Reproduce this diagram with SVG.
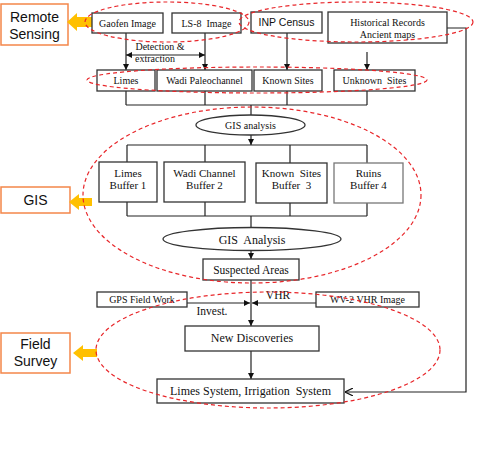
<svg xmlns="http://www.w3.org/2000/svg" width="483" height="476" viewBox="0 0 483 476">
<style>
.box{fill:#fff;stroke:#333;stroke-width:1.3}
.box2{fill:#fff;stroke:#777;stroke-width:1.3}
.side{fill:#fff;stroke:#F4864A;stroke-width:1.5}
.t{font-family:"Liberation Serif","Times New Roman",serif;fill:#111;text-anchor:middle}
.s{font-family:"Liberation Sans",Arial,sans-serif;fill:#111;text-anchor:middle}
.ln{fill:none;stroke:#222;stroke-width:1.2}
.red{fill:none;stroke:#E8262A;stroke-width:1.2;stroke-dasharray:4 3}
.ya{fill:#FFC000}
</style>
<defs>
<marker id="ah" viewBox="0 0 10 10" refX="10" refY="5" markerWidth="6" markerHeight="6" orient="auto-start-reverse" markerUnits="userSpaceOnUse"><path d="M0,0L10,5L0,10z" fill="#111"/></marker>
<marker id="open" viewBox="0 0 10 10" refX="10" refY="5" markerWidth="8" markerHeight="8" orient="auto" markerUnits="userSpaceOnUse"><path d="M0,0L10,5L0,10" fill="none" stroke="#111" stroke-width="1.4"/></marker>
</defs>

<g id="connectors">
<line class="ln" x1="126" y1="33" x2="126" y2="70" marker-end="url(#ah)"/>
<line class="ln" x1="205" y1="33" x2="205" y2="70" marker-end="url(#ah)"/>
<line class="ln" x1="126" y1="55" x2="205" y2="55" marker-start="url(#ah)" marker-end="url(#ah)"/>
<line class="ln" x1="287" y1="33" x2="287" y2="70" marker-end="url(#ah)"/>
<line class="ln" x1="367" y1="52" x2="367" y2="70" marker-end="url(#ah)"/>
<path class="ln" d="M126,91V105M205,91V105M287,91V105M367,91V105M126,105H367"/>
<line class="ln" x1="251" y1="105" x2="251" y2="115"/>
<line class="ln" x1="251" y1="135" x2="251" y2="145" marker-end="url(#ah)"/>
<path class="ln" d="M127,145H367M127,145V162M205,145V162M290,145V163M367,145V163"/>
<path class="ln" d="M127,202V216M205,202V216M290,203V216M367,203V216M127,216H367M251,216V228"/>
<line class="ln" x1="251" y1="250" x2="251" y2="259" marker-end="url(#ah)"/>
<line class="ln" x1="251" y1="280" x2="251" y2="326" marker-end="url(#ah)"/>
<line class="ln" x1="187" y1="303" x2="250" y2="303" marker-end="url(#ah)"/>
<line class="ln" x1="316" y1="303" x2="252" y2="303" marker-end="url(#ah)"/>
<line class="ln" x1="251" y1="351" x2="251" y2="379" marker-end="url(#ah)"/>
<polyline class="ln" points="447,28 466,28 466,392 345,392" marker-end="url(#open)"/>
<text class="t" x="160" y="50" font-size="10">Detection &amp;</text>
<text class="t" x="155" y="62" font-size="10">extraction</text>
<text class="t" x="278" y="299" font-size="11.5">VHR</text>
<text class="t" x="212" y="315" font-size="11.5">Invest.</text>
</g>

<g id="remote-sensing">
<rect class="side" x="1" y="4" width="67" height="41"/>
<text class="s" x="34.5" y="22" font-size="14">Remote</text>
<text class="s" x="34.5" y="39" font-size="14">Sensing</text>
<polygon class="ya" points="67,22 77,13 77,17 92,17 92,27 77,27 77,31"/>
</g>
<g id="gis-label">
<rect class="side" x="1" y="187" width="69" height="26"/>
<text class="s" x="35.5" y="205" font-size="14">GIS</text>
<polygon class="ya" points="69,202 79,194 79,198 92,198 92,206 79,206 79,210"/>
</g>
<g id="field-survey">
<rect class="side" x="1" y="333" width="69" height="40"/>
<text class="s" x="35.5" y="349" font-size="14">Field</text>
<text class="s" x="35.5" y="366" font-size="14">Survey</text>
<polygon class="ya" points="73,353 83,345 83,349 97,349 97,357 83,357 83,361"/>
</g>

<g id="gaofen"><rect class="box" x="92" y="13" width="71" height="20"/><text class="t" x="127.5" y="27" font-size="10">Gaofen Image</text></g>
<g id="ls8"><rect class="box" x="172" y="13" width="69" height="20"/><text class="t" x="206.5" y="27" font-size="10" xml:space="preserve">LS-8  Image</text></g>
<g id="inp"><rect class="box" x="251" y="12" width="71" height="21"/><text class="s" x="286.5" y="26" font-size="10.5">INP Census</text></g>
<g id="historical"><rect class="box" x="328" y="12" width="119" height="31"/><text class="t" x="387.5" y="26" font-size="10">Historical Records</text><text class="t" x="387.5" y="38" font-size="10">Ancient maps</text></g>

<g id="limes"><rect class="box" x="97" y="70" width="58" height="21"/><text class="t" x="126" y="84" font-size="10">Limes</text></g>
<g id="wadi"><rect class="box" x="157" y="70" width="95" height="21"/><text class="t" x="204.5" y="84" font-size="10">Wadi Paleochannel</text></g>
<g id="known"><rect class="box" x="254" y="70" width="68" height="21"/><text class="t" x="288" y="84" font-size="10">Known Sites</text></g>
<g id="unknown"><rect class="box" x="334" y="70" width="81" height="21"/><text class="t" x="374.5" y="84" font-size="10" xml:space="preserve">Unknown  Sites</text></g>

<g id="gis-analysis-1"><ellipse class="box" cx="250.5" cy="125" rx="54.5" ry="10"/><text class="t" x="250.5" y="129" font-size="10">GIS analysis</text></g>

<g id="buffer1"><rect class="box" x="99" y="162" width="58" height="40"/><text class="t" x="128" y="177" font-size="11">Limes</text><text class="t" x="128" y="189" font-size="11">Buffer 1</text></g>
<g id="buffer2"><rect class="box" x="164" y="162" width="81" height="40"/><text class="t" x="204.5" y="177" font-size="11">Wadi Channel</text><text class="t" x="204.5" y="189" font-size="11">Buffer 2</text></g>
<g id="buffer3"><rect class="box" x="256" y="163" width="71" height="40"/><text class="t" x="291.5" y="177" font-size="11" xml:space="preserve">Known  Sites</text><text class="t" x="291.5" y="189" font-size="11" xml:space="preserve">Buffer  3</text></g>
<g id="buffer4"><rect class="box2" x="334" y="163" width="69" height="40"/><text class="t" x="368.5" y="177" font-size="11">Ruins</text><text class="t" x="368.5" y="189" font-size="11">Buffer 4</text></g>

<g id="gis-analysis-2"><ellipse class="box" cx="252" cy="239" rx="89" ry="11.5"/><text class="t" x="252" y="244" font-size="12" xml:space="preserve">GIS  Analysis</text></g>
<g id="suspected"><rect class="box" x="203" y="259" width="96" height="21"/><text class="t" x="251" y="274" font-size="11.5">Suspected Areas</text></g>
<g id="gps"><rect class="box" x="97" y="292" width="90" height="15"/><text class="t" x="142" y="303" font-size="10">GPS Field Work</text></g>
<g id="wv2"><rect class="box" x="316" y="292" width="103" height="15"/><text class="t" x="367.5" y="303" font-size="10">WV-2 VHR Image</text></g>
<g id="new-discoveries"><rect class="box" x="185" y="326" width="134" height="25"/><text class="t" x="252" y="342" font-size="12">New Discoveries</text></g>
<g id="limes-system"><rect class="box" x="157" y="379" width="187" height="24"/><text class="t" x="250.5" y="395" font-size="12" xml:space="preserve">Limes System, Irrigation  System</text></g>

<g id="highlights">
<ellipse class="red" cx="167" cy="22" rx="82" ry="20"/>
<ellipse class="red" cx="356" cy="22" rx="117" ry="20"/>
<ellipse class="red" cx="257" cy="80" rx="170" ry="13"/>
<ellipse class="red" cx="252" cy="195" rx="169" ry="88"/>
<ellipse class="red" cx="268" cy="350" rx="172" ry="58"/>
</g>
</svg>
